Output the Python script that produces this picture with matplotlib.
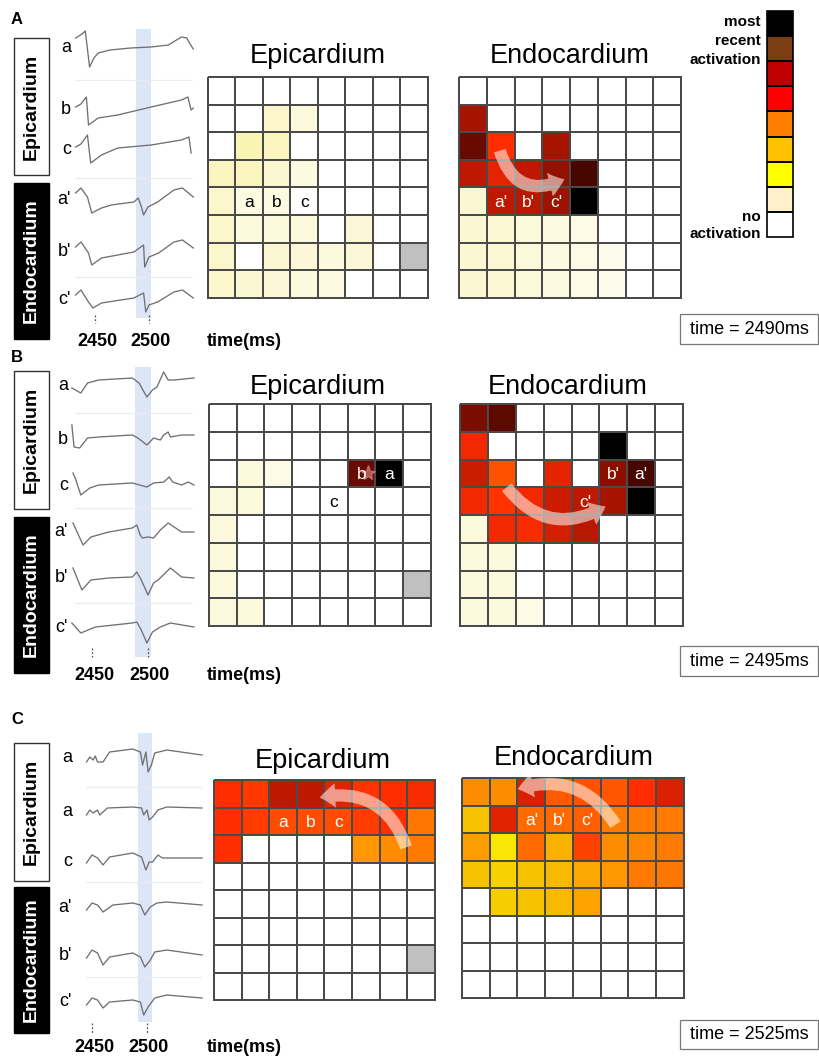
import numpy as np
import matplotlib
matplotlib.use('Agg')
import matplotlib.pyplot as plt
from matplotlib.colors import LinearSegmentedColormap, ListedColormap, BoundaryNorm, Normalize
from matplotlib.patches import Rectangle, FancyArrowPatch
from matplotlib.cm import ScalarMappable

plt.rcParams['font.family'] = ['Liberation Sans', 'DejaVu Sans']

nan = np.nan

# ---- electrogram traces (time in ms, amplitude in arbitrary units) ----
trace_names_A = ['a', 'b', 'c', "a'", "b'", "c'"]
trace_names_B = ['a', 'b', 'c', "a'", "b'", "c'"]
trace_names_C = ['a', 'a', 'c', "a'", "b'", "c'"]

A_t = [
    [2432, 2438, 2441, 2445, 2449, 2453, 2464, 2483, 2502, 2518, 2530, 2535, 2538, 2541],
    [2432, 2437, 2442, 2444, 2453, 2471, 2502, 2530, 2536, 2539, 2541],
    [2432, 2437, 2443, 2446, 2456, 2471, 2502, 2530, 2537, 2539],
    [2432, 2437, 2443, 2447, 2456, 2465, 2486, 2490, 2493, 2495, 2499, 2508, 2523, 2531, 2541],
    [2432, 2437, 2444, 2447, 2456, 2486, 2495, 2496, 2500, 2509, 2523, 2531, 2541],
    [2432, 2437, 2444, 2448, 2456, 2486, 2495, 2497, 2500, 2508, 2523, 2531, 2541],
]
A_v = [
    [10, 14, 17, -19, -10, -5, -2, 0, 1, 3, 11, 10, 4, -1],
    [3, 6, 13, -15, -8, -5, 3, 10, 13, 0, 2],
    [3, 6, 15, -13, -5, 2, 5, 10, 13, -3],
    [7, 12, 3, -13, -8, -5, -2, 2, -7, -15, -7, -2, 10, 12, 3],
    [5, 10, -1, -13, -6, 0, 7, -15, -5, -1, 10, 12, 4],
    [5, 10, -2, -8, -3, 2, 7, -12, -5, -2, 8, 10, 2],
]

B_t = [
    [2432, 2440, 2446, 2456, 2486, 2492, 2499, 2504, 2508, 2514, 2518, 2523, 2541],
    [2432, 2434, 2439, 2446, 2456, 2486, 2491, 2499, 2505, 2511, 2514, 2518, 2520, 2530, 2541],
    [2433, 2435, 2440, 2448, 2456, 2486, 2499, 2505, 2514, 2519, 2522, 2530, 2536, 2541],
    [2433, 2442, 2449, 2465, 2486, 2490, 2493, 2495, 2500, 2505, 2511, 2518, 2530, 2541],
    [2433, 2441, 2449, 2465, 2486, 2490, 2494, 2500, 2505, 2509, 2520, 2530, 2541],
    [2432, 2440, 2453, 2486, 2490, 2494, 2499, 2504, 2511, 2520, 2541],
]
B_v = [
    [-3, -8, 2, 5, 7, 2, -12, -5, -2, 13, 5, 5, 7],
    [15, -7, -8, 2, 3, 5, 2, -5, 2, 0, 5, 8, 3, 5, 5],
    [12, 7, -10, -3, 0, 2, -2, 2, 3, 8, 3, 0, 3, 0],
    [9, -13, -5, 0, 4, 7, -3, -6, -5, -6, 2, 9, 0, 0],
    [10, -12, -2, 0, 1, 6, -2, -17, -5, -2, 10, 1, 0],
    [4, -6, 0, 4, 5, -3, -16, -5, 0, 4, 0],
]

C_t = [
    [2445, 2448, 2451, 2453, 2455, 2460, 2466, 2487, 2494, 2496, 2499, 2501, 2504, 2507, 2518, 2550],
    [2445, 2448, 2451, 2455, 2457, 2464, 2487, 2495, 2497, 2500, 2502, 2505, 2510, 2518, 2550],
    [2445, 2450, 2455, 2460, 2466, 2487, 2495, 2499, 2502, 2505, 2510, 2514, 2550],
    [2445, 2450, 2455, 2460, 2469, 2487, 2494, 2498, 2503, 2509, 2518, 2550],
    [2445, 2450, 2455, 2460, 2466, 2487, 2494, 2498, 2503, 2507, 2518, 2550],
    [2445, 2450, 2455, 2460, 2466, 2487, 2494, 2497, 2501, 2507, 2518, 2550],
]
C_v = [
    [-4, 1, -2, 2, -4, -4, 6, 9, 6, -7, 6, -14, -7, 5, 8, 3],
    [-3, 2, -1, 2, -3, 4, 5, 4, -3, 2, -8, -5, 2, 5, 4],
    [-1, 7, 4, -3, 5, 9, 5, -8, 0, 0, 7, 4, 4],
    [-2, 5, 3, -4, 3, 5, 3, -7, 1, 5, 6, 3],
    [-2, 6, 3, -9, -1, 3, -1, -11, -4, 4, 6, 1],
    [-3, 4, 2, -6, 0, 2, 0, -13, -5, 4, 7, 4],
]

window_A = (2488, 2502)
window_B = (2488, 2503)
window_C = (2492, 2505)
time_labels = ['time = 2490ms', 'time = 2495ms', 'time = 2525ms']

# ---- activation maps (8x8, 0 = no activation, 9 = most recent, nan = no electrode) ----
epi_A = [
    [0, 0, 0, 0, 0, 0, 0, 0],
    [0, 0, 0.9, 0.6, 0, 0, 0, 0],
    [0, 1.1, 1.05, 0, 0, 0, 0, 0],
    [1.05, 1.05, 0.8, 0.55, 0, 0, 0, 0],
    [0.9, 0.55, 0.5, 0, 0, 0, 0, 0],
    [0.9, 0.6, 0.6, 0.6, 0, 0.7, 0, 0],
    [0.9, 0, 0.8, 0.7, 0.6, 0.7, 0, nan],
    [0.9, 0.8, 0.7, 0.6, 0.5, 0, 0, 0],
]
endo_A = [
    [0, 0, 0, 0, 0, 0, 0, 0],
    [7.3, 0, 0, 0, 0, 0, 0, 0],
    [8.0, 6.0, 0, 7.3, 0, 0, 0, 0],
    [7.0, 6.4, 7.0, 7.5, 8.3, 0, 0, 0],
    [0.8, 7.0, 7.1, 7.4, 9.0, 0, 0, 0],
    [0.8, 0.75, 0.65, 0.55, 0.45, 0, 0, 0],
    [0.8, 0.75, 0.65, 0.55, 0.45, 0.35, 0, 0],
    [0.8, 0.75, 0.65, 0.55, 0.45, 0.35, 0, 0],
]
epi_B = [
    [0, 0, 0, 0, 0, 0, 0, 0],
    [0, 0, 0, 0, 0, 0, 0, 0],
    [0, 0.6, 0.45, 0, 0, 8.0, 9.0, 0],
    [0.6, 0.6, 0, 0, 0, 0, 0, 0],
    [0.6, 0, 0, 0, 0, 0, 0, 0],
    [0.6, 0, 0, 0, 0, 0, 0, 0],
    [0.6, 0, 0, 0, 0, 0, 0, nan],
    [0.6, 0.6, 0, 0, 0, 0, 0, 0],
]
endo_B = [
    [7.8, 8.1, 0, 0, 0, 0, 0, 0],
    [6.2, 0, 0, 0, 0, 9.0, 0, 0],
    [6.8, 5.3, 0, 6.4, 0, 7.6, 8.3, 0],
    [6.2, 5.9, 6.2, 6.8, 7.0, 7.3, 9.0, 0],
    [0.6, 6.2, 6.1, 6.7, 7.1, 0, 0, 0],
    [0.6, 0.6, 0, 0, 0, 0, 0, 0],
    [0.6, 0.6, 0, 0, 0, 0, 0, 0],
    [0.6, 0.6, 0.45, 0, 0, 0, 0, 0],
]
epi_C = [
    [6.0, 5.8, 7.0, 7.0, 6.5, 5.9, 6.0, 6.1],
    [6.0, 5.7, 5.4, 5.4, 5.4, 5.7, 6.0, 4.6],
    [6.0, 0, 0, 0, 0, 4.0, 4.2, 4.5],
    [0, 0, 0, 0, 0, 0, 0, 0],
    [0, 0, 0, 0, 0, 0, 0, 0],
    [0, 0, 0, 0, 0, 0, 0, 0],
    [0, 0, 0, 0, 0, 0, 0, nan],
    [0, 0, 0, 0, 0, 0, 0, 0],
]
endo_C = [
    [4.2, 4.2, 6.6, 5.1, 5.3, 5.2, 6.0, 6.6],
    [3.0, 6.5, 4.8, 4.8, 5.0, 4.5, 4.5, 4.5],
    [3.8, 2.0, 4.8, 3.4, 5.6, 4.2, 4.3, 4.5],
    [3.0, 2.6, 3.0, 3.2, 3.6, 4.0, 4.5, 4.6],
    [0, 2.7, 3.0, 3.2, 3.7, 0, 0, 0],
    [0, 0, 0, 0, 0, 0, 0, 0],
    [0, 0, 0, 0, 0, 0, 0, 0],
    [0, 0, 0, 0, 0, 0, 0, 0],
]

cb_colors = ['#FFFFFF', '#FFF0CC', '#FFFF00', '#FFC000', '#FF8000',
             '#FF0000', '#C00000', '#7B3D12', '#000000']

map_nodes = ['#FFFFFF', '#FAF5C4', '#F9E600', '#F7C200', '#FF9600',
             '#FF6000', '#FF2D00', '#C01800', '#6A0A00', '#000000']
act_cmap = LinearSegmentedColormap.from_list('act', map_nodes)
act_cmap.set_bad('#C0C0C0')

W, H = 820, 1059
fig = plt.figure(figsize=(8.2, 10.59), dpi=100)


def px_axes(x0, y0, x1, y1, **kw):
    return fig.add_axes([x0 / W, 1 - y1 / H, (x1 - x0) / W, (y1 - y0) / H], **kw)


ov = fig.add_axes([0, 0, 1, 1], zorder=10)
ov.set_xlim(0, W)
ov.set_ylim(H, 0)
ov.axis('off')


def draw_traces(top, bottom, ticks_px, t_list, v_list, bases, names, name_x,
                window, band_y, seps, sep_x, tick_y, lab_y):
    p0, p1 = ticks_px
    sc = 50 / (p1 - p0)
    ax = px_axes(55, top, 210, bottom)
    ax.set_xlim(2450 + (55 - p0) * sc, 2450 + (210 - p0) * sc)
    ax.set_ylim(bottom, top)
    ax.axis('off')
    ax.fill_betweenx(band_y, window[0], window[1], color='#DDE6F6', lw=0)
    s0 = 2450 + (sep_x[0] - p0) * sc
    s1 = 2450 + (sep_x[1] - p0) * sc
    ax.hlines(seps, s0, s1, colors='#EBEBEB', lw=0.8)
    for t, v, b in zip(t_list, v_list, bases):
        ax.plot(t, b - np.array(v), color='#707070', lw=0.95)
    ax.vlines([2450, 2500], tick_y[0], tick_y[1], colors='#555555',
              linestyles=(0, (1.5, 1.5)), lw=0.9)
    for nm, b in zip(names, bases):
        ov.text(name_x, b, nm, ha='right', va='center', fontsize=13)
    ov.text(p0 + 2, lab_y, '2450', ha='center', va='center', fontsize=13, fontweight='bold')
    ov.text(p1 + 2, lab_y, '2500', ha='center', va='center', fontsize=13, fontweight='bold')
    ov.text(207, lab_y, 'time(ms)', ha='left', va='center', fontsize=13, fontweight='bold')


def draw_map(box, values, labels):
    ax = px_axes(*box)
    m = np.ma.masked_invalid(np.array(values, dtype=float))
    mesh = ax.pcolormesh(np.arange(9), np.arange(9), m, cmap=act_cmap, norm=Normalize(0, 9),
                         edgecolors='#4A4A4A', linewidth=1.1)
    mesh.set_clip_on(False)
    ax.set_xlim(0, 8)
    ax.set_ylim(8, 0)
    ax.axis('off')
    for r, c, s, col in labels:
        ax.text(c + 0.5, r + 0.55, s, ha='center', va='center', fontsize=12.5, color=col)
    return ax


def side_boxes(epi_y, endo_y):
    ov.add_patch(Rectangle((14, epi_y[0]), 35, epi_y[1] - epi_y[0], fc='white', ec='#333333', lw=1))
    ov.text(31.5, sum(epi_y) / 2, 'Epicardium', rotation=90, ha='center', va='center',
            fontsize=14, fontweight='bold')
    ov.add_patch(Rectangle((14, endo_y[0]), 35, endo_y[1] - endo_y[0], fc='black', ec='black', lw=1))
    ov.text(31.5, sum(endo_y) / 2, 'Endocardium', rotation=90, ha='center', va='center',
            fontsize=14, fontweight='bold', color='white')


def time_box(y0, y1, txt):
    ov.add_patch(Rectangle((680, y0), 138, y1 - y0, fc='white', ec='#777777', lw=0.9))
    ov.text(749, (y0 + y1) / 2, txt, ha='center', va='center', fontsize=13)


def arrow(p_from, p_to, rad):
    ov.add_patch(FancyArrowPatch(p_from, p_to, connectionstyle=f'arc3,rad={rad}',
                                 arrowstyle='simple,head_length=0.7,head_width=1.1,tail_width=0.55',
                                 mutation_scale=16, fc='white', ec='none', alpha=0.55))


# ---------------- panel A ----------------
ov.text(11, 20, 'A', ha='left', va='center', fontsize=12, fontweight='bold')
side_boxes((38, 175), (183, 339))
draw_traces(20, 350, (95, 149), A_t, A_v, [48, 110, 150, 200, 252, 300], trace_names_A, 71,
            window_A, (29, 318), [80, 178, 277], (75, 192), (315, 323), 341)
draw_map((208, 77, 428, 298), epi_A, [(4, 1, 'a', 'black'), (4, 2, 'b', 'black'), (4, 3, 'c', 'black')])
draw_map((459, 77, 681, 298), endo_A, [(4, 1, "a'", 'white'), (4, 2, "b'", 'white'), (4, 3, "c'", 'white')])
ov.text(318, 63, 'Epicardium', ha='center', va='baseline', fontsize=19.5)
ov.text(570, 63, 'Endocardium', ha='center', va='baseline', fontsize=19.5)
arrow((499, 148), (567, 178), 0.6)
time_box(314, 344, time_labels[0])

# colour key
cax = px_axes(767, 11, 793, 237)
cb = fig.colorbar(ScalarMappable(norm=BoundaryNorm(np.arange(10), 9), cmap=ListedColormap(cb_colors)),
                  cax=cax, drawedges=True)
cb.set_ticks([])
cb.minorticks_off()
cb.ax.tick_params(which='both', length=0)
cb.outline.set_linewidth(1.2)
cb.dividers.set_linewidth(1.4)
for y, s in [(22, 'most'), (41, 'recent'), (60, 'activation'), (217, 'no'), (234, 'activation')]:
    ov.text(761, y, s, ha='right', va='center', fontsize=11, fontweight='bold')

# ---------------- panel B ----------------
ov.text(11, 357, 'B', ha='left', va='center', fontsize=12, fontweight='bold')
side_boxes((371, 509), (517, 673))
draw_traces(355, 690, (92, 148), B_t, B_v, [385, 440, 485, 532, 578, 627], trace_names_B, 68,
            window_B, (367, 657), [413, 508, 603], (75, 192), (648, 657), 676)
ax_be = draw_map((209, 404, 431, 626), epi_B, [(2, 5, 'b', 'white'), (2, 6, 'a', 'white'), (3, 4, 'c', 'black')])
ax_be.plot([5.72], [2.5], marker='*', ms=11, color='#D89090', alpha=0.6, ls='none')
draw_map((460, 404, 683, 626), endo_B, [(2, 5, "b'", 'white'), (2, 6, "a'", 'white'), (3, 4, "c'", 'white')])
ov.text(318, 394, 'Epicardium', ha='center', va='baseline', fontsize=19.5)
ov.text(568, 394, 'Endocardium', ha='center', va='baseline', fontsize=19.5)
arrow((505, 485), (608, 505), 0.45)
time_box(646, 676, time_labels[1])

# ---------------- panel C ----------------
ov.text(11, 720, 'C', ha='left', va='center', fontsize=12, fontweight='bold')
side_boxes((743, 881), (887, 1033))
draw_traces(722, 1059, (92, 147), C_t, C_v, [758, 812, 862, 908, 956, 1002], trace_names_C, 72,
            window_C, (733, 1022), [787, 882, 977], (86, 202), (1023, 1033), 1048)
draw_map((214, 780, 435, 1000), epi_C, [(1, 2, 'a', 'white'), (1, 3, 'b', 'white'), (1, 4, 'c', 'white')])
draw_map((462, 778, 684, 998), endo_C, [(1, 2, "a'", 'white'), (1, 3, "b'", 'white'), (1, 4, "c'", 'white')])
ov.text(323, 768, 'Epicardium', ha='center', va='baseline', fontsize=19.5)
ov.text(574, 765, 'Endocardium', ha='center', va='baseline', fontsize=19.5)
arrow((407, 850), (317, 798), 0.45)
arrow((617, 827), (515, 790), 0.4)
time_box(1020, 1049, time_labels[2])

fig.savefig('out.png', dpi=100)
